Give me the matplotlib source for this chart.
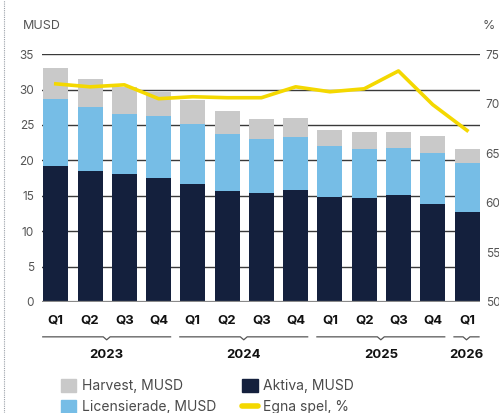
import numpy as np
import matplotlib
matplotlib.use('Agg')
import matplotlib.pyplot as plt
from matplotlib.patches import Patch
from matplotlib.lines import Line2D

plt.rcParams['font.family'] = ['Inter', 'DejaVu Sans']

# Data
quarters = ['Q1', 'Q2', 'Q3', 'Q4', 'Q1', 'Q2', 'Q3', 'Q4', 'Q1', 'Q2', 'Q3', 'Q4', 'Q1']
years = ['2023', '2024', '2025', '2026']
year_counts = [4, 4, 4, 1]
aktiva = [19.2, 18.5, 18.1, 17.5, 16.7, 15.7, 15.4, 15.8, 14.8, 14.7, 15.1, 13.8, 12.7]
licensierade = [9.45, 9.0, 8.4, 8.7, 8.4, 8.0, 7.6, 7.5, 7.2, 6.9, 6.6, 7.2, 6.9]
harvest = [4.35, 4.0, 3.8, 3.4, 3.4, 3.25, 2.8, 2.7, 2.3, 2.4, 2.3, 2.4, 2.0]
egna_spel = [72.0, 71.7, 71.9, 70.5, 70.7, 70.6, 70.6, 71.7, 71.2, 71.5, 73.3, 69.9, 67.3]

c_navy = '#14203d'
c_blue = '#76bde6'
c_grey = '#c9c9c9'
c_yellow = '#f4d800'
c_text = '#555555'

x = np.arange(len(quarters))
aktiva = np.array(aktiva)
licensierade = np.array(licensierade)
harvest = np.array(harvest)

fig = plt.figure(figsize=(4.99, 4.13), dpi=100)
ax = fig.add_axes([0.085, 0.269, 0.877, 0.600])

# gridlines
for v in range(0, 40, 5):
    ax.axhline(v, color='#3a3a3a', lw=1.0, zorder=0)

ax.bar(x, aktiva, width=0.73, color=c_navy, zorder=2)
ax.bar(x, licensierade, width=0.73, bottom=aktiva, color=c_blue, zorder=2)
ax.bar(x, harvest, width=0.73, bottom=aktiva + licensierade, color=c_grey, zorder=2)
ax.axhline(0, color='#8a8a8a', lw=1.6, zorder=3)

ax.set_xlim(-0.39, 12.38)
ax.set_ylim(0, 35)
ax.set_yticks(range(0, 40, 5))
ax.tick_params(axis='y', length=0, pad=6, labelsize=8.5, labelcolor=c_text)
ax.set_xticks(x)
ax.set_xticklabels(quarters, fontsize=9.5, fontweight='bold', color='#111111')
ax.tick_params(axis='x', length=0, pad=9)
for s in ax.spines.values():
    s.set_visible(False)

# percent line on right axis
ax2 = ax.twinx()
ax2.plot(x, egna_spel, color=c_yellow, lw=2.6, zorder=5)
ax2.set_ylim(50, 75)
ax2.set_yticks(range(50, 80, 5))
ax2.tick_params(axis='y', length=0, pad=4, labelsize=8.5, labelcolor=c_text)
for s in ax2.spines.values():
    s.set_visible(False)

fig.text(0.046, 0.937, 'MUSD', fontsize=9, color=c_text, va='center')
fig.text(0.992, 0.937, '%', fontsize=9, color=c_text, va='center', ha='right')

# year brackets under the quarters
trans = ax.get_xaxis_transform()
start = 0
for yr, n in zip(years, year_counts):
    x0 = start - 0.38
    x1 = start + n - 1 + 0.35
    xm = (x0 + x1) / 2
    yb = -0.141
    ax.plot([x0, xm - 0.1, xm, xm + 0.1, x1], [yb, yb, yb - 0.012, yb, yb],
            transform=trans, color='#555555', lw=0.9, clip_on=False)
    ax.text(xm, -0.214, yr, transform=trans, ha='center', va='center',
            fontsize=9.5, fontweight='bold', color='#111111')
    start += n

# legend
handles = [Patch(color=c_grey), Patch(color=c_blue), Patch(color=c_navy),
           Line2D([0], [0], color=c_yellow, lw=4, solid_capstyle='round')]
labels = ['Harvest, MUSD', 'Licensierade, MUSD', 'Aktiva, MUSD', 'Egna spel, %']
fig.legend(handles, labels, ncol=2, loc='upper left', bbox_to_anchor=(0.108, 0.1),
           frameon=False, fontsize=10, labelcolor='#4a4a4a', handlelength=1.1,
           handleheight=1.1, handletextpad=0.4, columnspacing=1.9, labelspacing=0.5,
           borderpad=0)

# dotted frame edge on the left
fig.add_artist(Line2D([0.008, 0.008], [0.0, 1.0], color='#9aa0a8', lw=0.8, ls=(0, (1, 1)),
                      transform=fig.transFigure))

fig.savefig('out.png', dpi=100)
